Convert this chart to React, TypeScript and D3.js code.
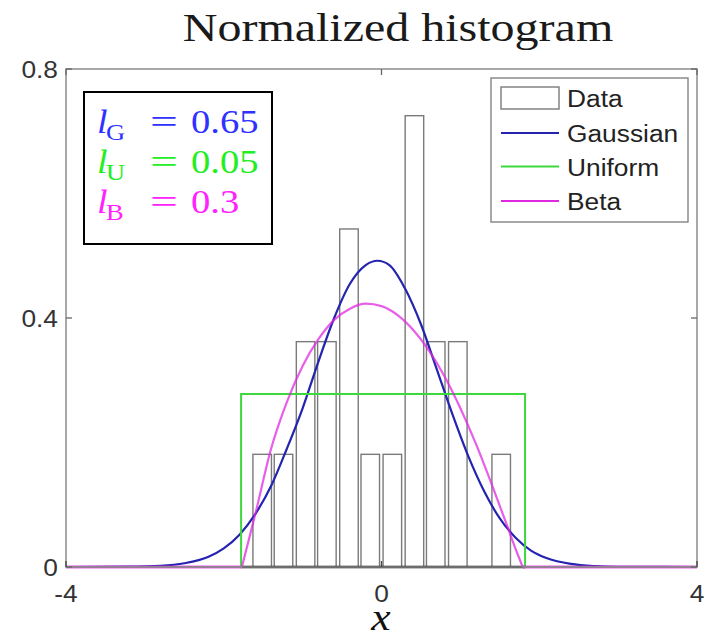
import React from 'react';
import * as d3 from 'd3';

// ---------- data ----------
const xTicks = [-4, 0, 4];
const xTickLabels = ['-4', '0', '4'];
const yTicks = [0, 0.4, 0.8];
const yTickLabels = ['0', '0.4', '0.8'];

// histogram (normalized): bar left edges and densities
const binStarts = [-1.63, -1.36, -1.08, -0.81, -0.53, -0.26, 0.02, 0.30, 0.57, 0.85, 1.40];
const binDensity = [0.181, 0.181, 0.362, 0.362, 0.543, 0.181, 0.181, 0.725, 0.362, 0.362, 0.181];
const barWidth = 0.235;

// Gaussian fit
const gaussX = [-4, -3.2, -2.8, -2.5, -2.2, -2.0, -1.8, -1.6, -1.4, -1.2, -1.0, -0.8, -0.6, -0.4, -0.2, -0.05, 0.1, 0.3, 0.5, 0.7, 0.9, 1.1, 1.3, 1.5, 1.7, 1.9, 2.1, 2.4, 2.7, 3.0, 4];
const gaussY = [0, 0.0005, 0.002, 0.006, 0.016, 0.030, 0.052, 0.085, 0.13, 0.19, 0.255, 0.33, 0.40, 0.455, 0.485, 0.492, 0.485, 0.447, 0.39, 0.318, 0.245, 0.178, 0.122, 0.078, 0.047, 0.026, 0.014, 0.005, 0.0015, 0.0004, 0];

// Uniform fit
const uniformRange = [-1.78, 1.82];
const uniformHeight = 0.278;

// Beta fit (on its support)
const betaX = [-1.77, -1.7, -1.6, -1.4, -1.2, -1.0, -0.8, -0.6, -0.4, -0.2, 0, 0.2, 0.4, 0.6, 0.8, 1.0, 1.2, 1.4, 1.6, 1.7, 1.79];
const betaY = [0, 0.035, 0.085, 0.19, 0.265, 0.323, 0.366, 0.397, 0.415, 0.423, 0.419, 0.405, 0.381, 0.348, 0.306, 0.255, 0.197, 0.132, 0.064, 0.029, 0];

const legendNames = ['Data', 'Gaussian', 'Uniform', 'Beta'];
const weightSubs = ['G', 'U', 'B'];
const weightValues = ['0.65', '0.05', '0.3'];

// ---------- styles ----------
const gaussColor = '#2424b0';
const uniformColor = '#3cd83c';
const betaColor = '#e028e0';
const textColors = ['#3030ff', '#22ee22', '#ff22ff'];
const axisColor = '#8c8c8c';
const barColor = '#7a7a7a';
const SANS = '"Liberation Sans", Arial, sans-serif';
const SERIF = '"Liberation Serif", "Times New Roman", serif';

const W = 712, H = 639;
const x = d3.scaleLinear().domain([-4, 4]).range([66, 697]);
const y = d3.scaleLinear().domain([0, 0.8]).range([567, 69]);

function SText({ tx, ty, sx = 1.12, anchor = 'start', size = 23.5, family = SANS, fill = '#222', style = 'normal', children }: any) {
  return (
    <text transform={`translate(${tx},${ty}) scale(${sx},1)`} textAnchor={anchor} fontSize={size} fontFamily={family} fill={fill} fontStyle={style}>
      {children}
    </text>
  );
}

export default function App() {
  const gaussPts = gaussX.map((v, i) => [v, gaussY[i]] as [number, number]);
  const betaPts = betaX.map((v, i) => [v, betaY[i]] as [number, number]);
  const smooth = d3.line<[number, number]>().x(d => x(d[0])).y(d => y(d[1])).curve(d3.curveMonotoneX);
  const straight = d3.line<[number, number]>().x(d => x(d[0])).y(d => y(d[1]));
  const uniformPts: [number, number][] = [
    [-4, 0], [uniformRange[0], 0], [uniformRange[0], uniformHeight],
    [uniformRange[1], uniformHeight], [uniformRange[1], 0], [4, 0],
  ];
  const betaLeftZero: [number, number][] = [[-4, 0], [betaX[0], 0]];
  const betaRightZero: [number, number][] = [[betaX[betaX.length - 1], 0], [4, 0]];

  const x0 = x.range()[0], x1 = x.range()[1];
  const yTop = y.range()[1], yBot = y.range()[0];
  const tl = 6;

  // legend geometry
  const lgX = 491, lgY = 78, lgW = 197, lgH = 144;
  const rowY = [98, 133, 166.5, 201];

  return (
    <svg width={W} height={H} style={{ position: 'absolute', left: 0, top: 0, background: '#fff' }}>
      <rect x={0} y={0} width={W} height={H} fill="#fff" />
      {/* title */}
      <SText tx={398} ty={41} anchor="middle" size={40} family={SERIF} sx={1.2} fill="#1a1a1a">Normalized histogram</SText>

      {/* plot area */}
      <rect x={x0} y={yTop} width={x1 - x0} height={yBot - yTop} fill="#fff" />

      {/* histogram bars */}
      {binStarts.map((b, i) => (
        <rect key={i} x={x(b)} y={y(binDensity[i])} width={x(b + barWidth) - x(b)} height={y(0) - y(binDensity[i])}
          fill="none" stroke={barColor} strokeWidth={1.4} />
      ))}
      <line x1={x(uniformRange[0])} x2={x(uniformRange[1])} y1={y(0)} y2={y(0)} stroke="#111" strokeWidth={2.5} />

      {/* fitted curves */}
      <path d={smooth(gaussPts) || ''} fill="none" stroke={gaussColor} strokeWidth={2.2} />
      <path d={straight(uniformPts) || ''} fill="none" stroke={uniformColor} strokeWidth={2} />
      <g opacity={0.75}>
        <path d={smooth(betaPts) || ''} fill="none" stroke={betaColor} strokeWidth={2.2} />
        <path d={straight(betaLeftZero) || ''} fill="none" stroke={betaColor} strokeWidth={3} />
        <path d={straight(betaRightZero) || ''} fill="none" stroke={betaColor} strokeWidth={3} />
      </g>

      {/* axes box */}
      <rect x={x0} y={yTop} width={x1 - x0} height={yBot - yTop} fill="none" stroke={axisColor} strokeWidth={1.5} />
      {xTicks.map((t, i) => (
        <g key={'xt' + i}>
          <line x1={x(t)} x2={x(t)} y1={yBot} y2={yBot - tl} stroke="#444" strokeWidth={1.3} />
          <line x1={x(t)} x2={x(t)} y1={yTop} y2={yTop + tl} stroke="#666" strokeWidth={1.3} />
          <SText tx={x(t)} ty={602} anchor="middle" fill="#333">{xTickLabels[i]}</SText>
        </g>
      ))}
      {yTicks.map((t, i) => (
        <g key={'yt' + i}>
          <line x1={x0} x2={x0 + tl} y1={y(t)} y2={y(t)} stroke="#666" strokeWidth={1.3} />
          <line x1={x1} x2={x1 - tl} y1={y(t)} y2={y(t)} stroke="#666" strokeWidth={1.3} />
          <SText tx={58} ty={y(t) + 8.5} anchor="end" fill="#333">{yTickLabels[i]}</SText>
        </g>
      ))}

      {/* x axis label */}
      <SText tx={381} ty={630} anchor="middle" size={38} family={SERIF} style="italic" sx={1.15} fill="#111">x</SText>

      {/* weights box */}
      <rect x={84} y={92} width={188} height={152} fill="#fff" stroke="#000" strokeWidth={2} />
      {weightSubs.map((s, i) => {
        const by = 133 + i * 40;
        return (
          <g key={'w' + i}>
            <SText tx={97} ty={by} size={33} family={SERIF} style="italic" sx={1.15} fill={textColors[i]}>l</SText>
            <SText tx={106} ty={by + 7} size={23} family={SERIF} sx={1.15} fill={textColors[i]}>{s}</SText>
            <SText tx={164} ty={by} anchor="middle" size={33} family={SERIF} sx={1.5} fill={textColors[i]}>=</SText>
            <SText tx={191} ty={by} size={33} family={SERIF} sx={1.17} fill={textColors[i]}>{weightValues[i]}</SText>
          </g>
        );
      })}

      {/* legend */}
      <rect x={lgX} y={lgY} width={lgW} height={lgH} fill="#fff" stroke={axisColor} strokeWidth={1.5} />
      <rect x={501} y={rowY[0] - 11} width={58} height={22} fill="#fff" stroke={barColor} strokeWidth={1.4} />
      <line x1={501} x2={559} y1={rowY[1]} y2={rowY[1]} stroke={gaussColor} strokeWidth={2.2} />
      <line x1={501} x2={559} y1={rowY[2]} y2={rowY[2]} stroke={uniformColor} strokeWidth={2.2} />
      <line x1={501} x2={559} y1={rowY[3]} y2={rowY[3]} stroke={betaColor} strokeWidth={2.2} />
      {legendNames.map((n, i) => (
        <SText key={'lg' + i} tx={567} ty={rowY[i] + 9} fill="#222">{n}</SText>
      ))}
    </svg>
  );
}
